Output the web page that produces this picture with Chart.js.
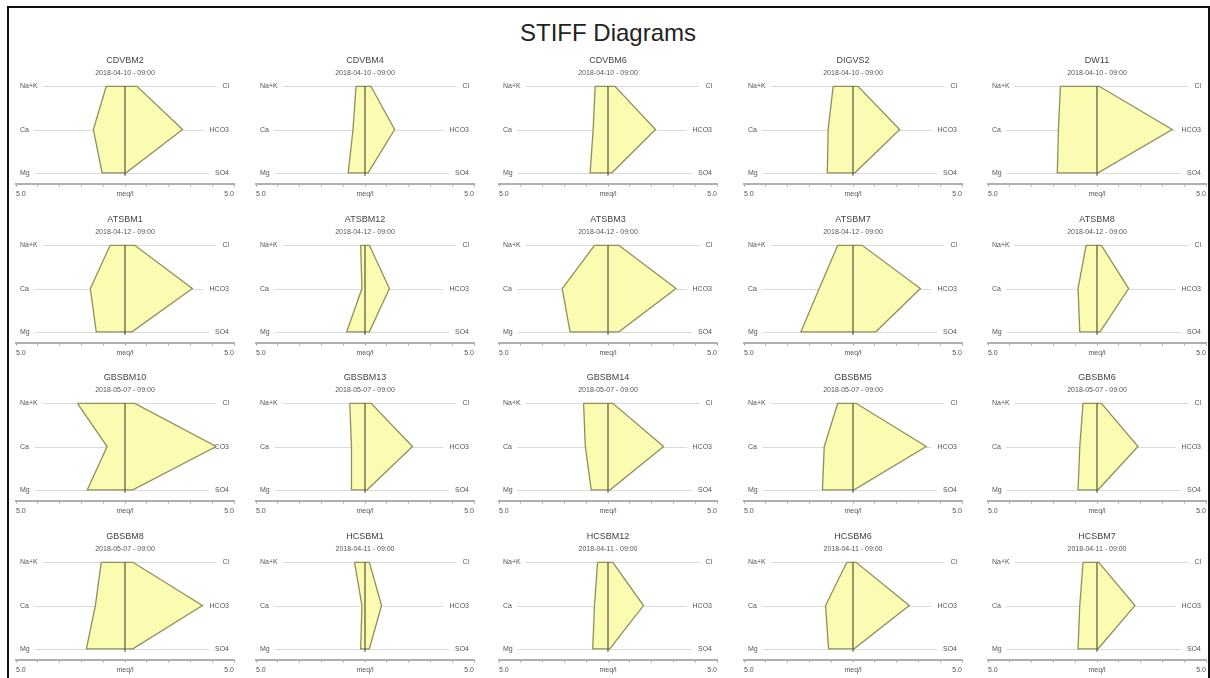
<!DOCTYPE html>
<html>
<head>
<meta charset="utf-8">
<title>STIFF Diagrams</title>
<script src="https://cdn.jsdelivr.net/npm/chart.js@4.4.1/dist/chart.umd.min.js"></script>
<style>
  html, body { margin: 0; padding: 0; background: #ffffff; }
  body { width: 1210px; height: 678px; position: relative; overflow: hidden;
         font-family: "Liberation Sans", Arial, sans-serif; }
  #frame { position: absolute; left: 7px; top: 6px; width: 1199px; height: 700px;
           border: 2px solid #111; }
  #heading { position: absolute; left: 0; width: 1216px; top: 19px; text-align: center;
             font-size: 24px; color: #222; }
  .panel { position: absolute; }
</style>
</head>
<body>
<div id="frame"></div>
<div id="heading">STIFF Diagrams</div>
<div id="grid"></div>
<script>
// Sampling points and sample dates
const stations = [
  "CDVBM2", "CDVBM4", "CDVBM6", "DIGVS2", "DW11",
  "ATSBM1", "ATSBM12", "ATSBM3", "ATSBM7", "ATSBM8",
  "GBSBM10", "GBSBM13", "GBSBM14", "GBSBM5", "GBSBM6",
  "GBSBM8", "HCSBM1", "HCSBM12", "HCSBM6", "HCSBM7"
];
const sampleDates = [
  "2018-04-10 - 09:00", "2018-04-10 - 09:00", "2018-04-10 - 09:00", "2018-04-10 - 09:00", "2018-04-10 - 09:00",
  "2018-04-12 - 09:00", "2018-04-12 - 09:00", "2018-04-12 - 09:00", "2018-04-12 - 09:00", "2018-04-12 - 09:00",
  "2018-05-07 - 09:00", "2018-05-07 - 09:00", "2018-05-07 - 09:00", "2018-05-07 - 09:00", "2018-05-07 - 09:00",
  "2018-05-07 - 09:00", "2018-04-11 - 09:00", "2018-04-11 - 09:00", "2018-04-11 - 09:00", "2018-04-11 - 09:00"
];

// Cations (left side), meq/l
const naK  = [0.86, 0.41, 0.59, 0.91, 1.68, 0.68, 0.20, 0.62, 0.70, 0.50, 2.18, 0.70, 1.12, 0.70, 0.64, 1.09, 0.48, 0.48, 0.28, 0.64];
const ca   = [1.45, 0.55, 0.68, 1.14, 1.77, 1.59, 0.14, 2.10, 1.55, 0.87, 0.82, 0.62, 1.04, 1.32, 0.79, 1.36, 0.14, 0.62, 1.26, 0.79];
const mg   = [1.05, 0.77, 0.82, 1.18, 1.82, 1.32, 0.84, 1.74, 2.39, 0.79, 1.73, 0.62, 0.77, 1.40, 0.87, 1.77, 0.20, 0.70, 1.12, 0.87];
// Anions (right side), meq/l
const cl   = [0.55, 0.27, 0.32, 0.23, 0.10, 0.45, 0.20, 0.50, 0.42, 0.20, 0.45, 0.28, 0.22, 0.14, 0.20, 0.36, 0.20, 0.22, 0.14, 0.08];
const hco3 = [2.64, 1.36, 2.18, 2.14, 3.45, 3.09, 1.12, 3.12, 3.09, 1.45, 4.18, 2.18, 2.55, 3.36, 1.88, 3.55, 0.76, 1.63, 2.58, 1.74];
const so4  = [0.05, 0.14, 0.18, 0.09, 0.05, 0.32, 0.20, 0.50, 1.05, 0.14, 0.36, 0.10, 0.10, 0.05, 0.05, 0.36, 0.20, 0.08, 0.05, 0.05];

// Axis labels
const cationLabels = ["Na+K", "Ca", "Mg"];
const anionLabels  = ["Cl", "HCO3", "SO4"];
const axisLimit = 5;
const axisEndLabel = "5.0";
const axisUnit = "meq/l";

// Rows of ions sit at y = 2 (top), 1 (middle), 0 (bottom)
const ionRows = [2, 1, 0];

const FONT = "'Liberation Sans', Arial, sans-serif";

// Draws the ion names at both ends of each row and the faint guide line between them
const ionRowPlugin = {
  id: 'ionRows',
  beforeDatasetsDraw(chart) {
    const { ctx, chartArea, scales } = chart;
    ctx.save();
    ctx.font = "7px " + FONT;
    ctx.textBaseline = 'middle';
    ionRows.forEach((row, i) => {
      const y = Math.round(scales.y.getPixelForValue(row)) + 0.5;
      const leftX = chartArea.left + 4;
      const rightX = chartArea.right - 5;
      const lw = ctx.measureText(cationLabels[i]).width;
      const rw = ctx.measureText(anionLabels[i]).width;
      ctx.fillStyle = '#555';
      ctx.textAlign = 'left';
      ctx.fillText(cationLabels[i], leftX, y);
      ctx.textAlign = 'right';
      ctx.fillText(anionLabels[i], rightX, y);
      ctx.strokeStyle = '#dadada';
      ctx.lineWidth = 1;
      ctx.beginPath();
      ctx.moveTo(leftX + lw + 5, y);
      ctx.lineTo(rightX - rw - 6, y);
      ctx.stroke();
    });
    ctx.restore();
  }
};

const grid = document.getElementById('grid');
const colCentres = [125, 365, 608, 853, 1097];
const rowTops = [50, 209, 367, 526];
const panelW = 224, panelH = 152;

stations.forEach((name, k) => {
  const r = Math.floor(k / 5), c = k % 5;
  const holder = document.createElement('div');
  holder.className = 'panel';
  holder.style.left = (colCentres[c] - panelW / 2) + 'px';
  holder.style.top = rowTops[r] + 'px';
  const cv = document.createElement('canvas');
  cv.width = panelW; cv.height = panelH;
  cv.style.width = panelW + 'px'; cv.style.height = panelH + 'px';
  holder.appendChild(cv);
  grid.appendChild(holder);

  const outline = [
    { x: -naK[k], y: 2 }, { x: -ca[k], y: 1 }, { x: -mg[k], y: 0 },
    { x: so4[k], y: 0 }, { x: hco3[k], y: 1 }, { x: cl[k], y: 2 },
    { x: -naK[k], y: 2 }
  ];

  new Chart(cv, {
    type: 'scatter',
    data: {
      datasets: [
        {
          data: outline,
          order: 2,
          showLine: true,
          fill: 'shape',
          backgroundColor: '#fbfbb2',
          borderColor: '#8f8f5c',
          borderWidth: 1.3,
          pointRadius: 0,
          tension: 0,
          clip: false
        },
        {
          data: [{ x: 0, y: 2 }, { x: 0, y: -0.07 }],
          order: 1,
          showLine: true,
          fill: false,
          borderColor: '#56563c',
          borderWidth: 1.2,
          pointRadius: 0,
          clip: false
        }
      ]
    },
    options: {
      responsive: false,
      devicePixelRatio: 1,
      animation: false,
      events: [],
      layout: { padding: { left: 0, right: 0, top: 0, bottom: 1 } },
      plugins: {
        legend: { display: false },
        tooltip: { enabled: false },
        title: {
          display: true, text: name, color: '#444',
          font: { family: FONT, size: 9, weight: 'normal' },
          padding: { top: 5, bottom: 3 }
        },
        subtitle: {
          display: true, text: sampleDates[k], color: '#555',
          font: { family: FONT, size: 7 },
          padding: { top: 0, bottom: 5 }
        }
      },
      scales: {
        x: {
          type: 'linear', min: -axisLimit, max: axisLimit,
          border: { display: true, color: '#b0b0b0', width: 2 },
          grid: { display: true, drawOnChartArea: false, drawTicks: true, tickLength: 3, color: '#aaa' },
          ticks: {
            stepSize: 1, autoSkip: false, maxRotation: 0, align: 'inner', padding: 3,
            color: '#555', font: { family: FONT, size: 7 },
            callback: (v) => (Math.abs(v) === axisLimit ? axisEndLabel : (v === 0 ? axisUnit : ''))
          }
        },
        y: { type: 'linear', display: false, min: -0.25, max: 2.095 }
      }
    },
    plugins: [ionRowPlugin]
  });
});
</script>
</body>
</html>
